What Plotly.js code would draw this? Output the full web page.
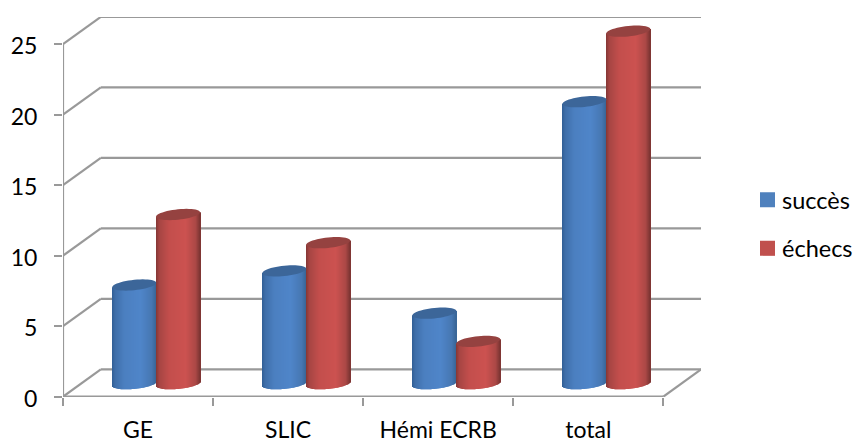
<!DOCTYPE html>
<html><head><meta charset="utf-8">
<script src="https://cdn.plot.ly/plotly-3.0.1.min.js"></script>
<style>html,body{margin:0;padding:0;background:#fff}</style></head>
<body><div id="c" style="width:857px;height:442px"></div>
<script>
const categories = ["GE","SLIC","Hémi ECRB","total"];
const succes = [7,8,5,20];
const echecs = [12,10,3,25];
const yTicks = [0,5,10,15,20,25];
const blueStops = [[-1,"#315f95"],[-0.85,"#3f6fa9"],[-0.45,"#4b7fc0"],[0.3,"#4f85c9"],[0.8,"#4677b2"],[1,"#386596"]];
const redStops = [[-1,"#843634"],[-0.85,"#a64543"],[-0.4,"#c34e4c"],[0.35,"#cc5250"],[0.8,"#ab4846"],[1,"#7a3432"]];

const W=857,H=442,mL=63,mR=156,mT=17,mB=45;
const plotW=W-mL-mR, plotH=H-mT-mB;
const catPx=150.07, ppu=14.1;
const xMax=-0.5+plotW/catPx;
const y0Px=396.7;
const yMin=-(mT+plotH-y0Px)/ppu, yMax=yMin+plotH/ppu;
const depthX=(701-663.2)/catPx, depthY=27.3/ppu;
const baseV=(396.7-383.7)/ppu;
const barPx=44, rx=barPx/2/catPx;
const b=5.2,s=2.2;
const blueLeft=-25.8/catPx, redLeft=18/catPx;

function hex(c){return [1,3,5].map(i=>parseInt(c.substr(i,2),16));}
function shade(st,u){
  for(let i=0;i<st.length-1;i++){
    if(u<=st[i+1][0]){
      const t=(u-st[i][0])/(st[i+1][0]-st[i][0]);
      const a=hex(st[i][1]),c=hex(st[i+1][1]);
      return "rgb("+a.map((v,k)=>Math.round(v+(c[k]-v)*t)).join(",")+")";
    }
  }
  return st[st.length-1][1];
}
const traces=[];
function strips(vals,left,stops,name){
  for(let i=0;i<barPx;i++){
    const u=(i+0.5)/barPx*2-1;
    const sq=Math.sqrt(1-u*u);
    traces.push({type:"bar",x:categories,y:vals.map(v=>v+b*sq/ppu),
      base:categories.map(()=>baseV+(s*u-b*sq)/ppu),
      width:1/catPx,offset:left+i/catPx,
      marker:{color:shade(stops,u),opacity:1,line:{width:0}},
      showlegend:false,hoverinfo:"skip",legendgroup:name});
  }
}
strips(succes,blueLeft,blueStops,"succès");
strips(echecs,redLeft,redStops,"échecs");
traces.push({type:"scatter",mode:"markers",x:[null],y:[null],name:"succès",legendgroup:"succès",
  marker:{symbol:"square",size:15,color:"#4f81bd"}});
traces.push({type:"scatter",mode:"markers",x:[null],y:[null],name:"échecs",legendgroup:"échecs",
  marker:{symbol:"square",size:15,color:"#c0504d"}});

const gridColor="#999999";
const shapes=[];
function seg(x0,y0,x1,y1){shapes.push({type:"line",xref:"x",yref:"y",x0,y0,x1,y1,layer:"below",line:{color:gridColor,width:2.2}});}
yTicks.forEach(v=>{
  seg(-0.5,v,-0.5+depthX,v+depthY);
  seg(-0.5+depthX,v+depthY,xMax,v+depthY);
});
seg(-0.5,0,-0.5,yTicks[yTicks.length-1]);
seg(-0.5,0,3.5,0);
seg(3.5,0,3.5+depthX,depthY);
function capPath(cx,v){
  const pts=[];
  for(let k=0;k<48;k++){
    const t=k/48*2*Math.PI;
    const px=rx*Math.cos(t), py=(b*Math.sin(t)-s*Math.cos(t))/ppu;
    pts.push((k?"L":"M")+(cx+px).toFixed(4)+","+(baseV+v-py).toFixed(4));
  }
  return pts.join(" ")+" Z";
}
function caps(vals,left,color){
  vals.forEach((v,i)=>{
    shapes.push({type:"path",xref:"x",yref:"y",path:capPath(i+left+rx,v),fillcolor:color,line:{width:0}});
  });
}
caps(succes,blueLeft,"#3c6699");
caps(echecs,redLeft,"#954240");

const font={family:"Lato, 'Open Sans', sans-serif",color:"#000",size:23};
const legFont={family:"Lato, 'Open Sans', sans-serif",color:"#000",size:23.5};
Plotly.newPlot("c",traces,{
  width:W,height:H,paper_bgcolor:"#fff",plot_bgcolor:"#fff",
  margin:{l:mL,r:mR,t:mT,b:mB,pad:0},
  barmode:"overlay",font,
  xaxis:{type:"category",categoryorder:"array",categoryarray:categories,range:[-0.5,xMax],automargin:false,
    tickson:"boundaries",ticks:"outside",ticklen:8,tickwidth:2,tickcolor:gridColor,
    showgrid:false,zeroline:false,showline:false,fixedrange:true,tickfont:font,ticklabelstandoff:17},
  yaxis:{range:[yMin,yMax],tickmode:"array",tickvals:yTicks,ticktext:yTicks.map(String),automargin:false,
    ticks:"outside",ticklen:8,tickwidth:2,tickcolor:gridColor,showgrid:false,zeroline:false,showline:false,
    fixedrange:true,tickfont:font,ticklabelstandoff:12,ticklabelshift:2},
  shapes,
  showlegend:true,
  legend:{xref:"container",yref:"container",x:747.5/W,xanchor:"left",y:1-224.5/H,yanchor:"middle",
    bgcolor:"rgba(0,0,0,0)",borderwidth:0,font:legFont,tracegroupgap:15,traceorder:"grouped"},
  hovermode:false
},{displayModeBar:false}).then(gd=>{
  gd.querySelectorAll(".legendtext").forEach(t=>t.setAttribute("x","34.5"));
});
</script></body></html>
